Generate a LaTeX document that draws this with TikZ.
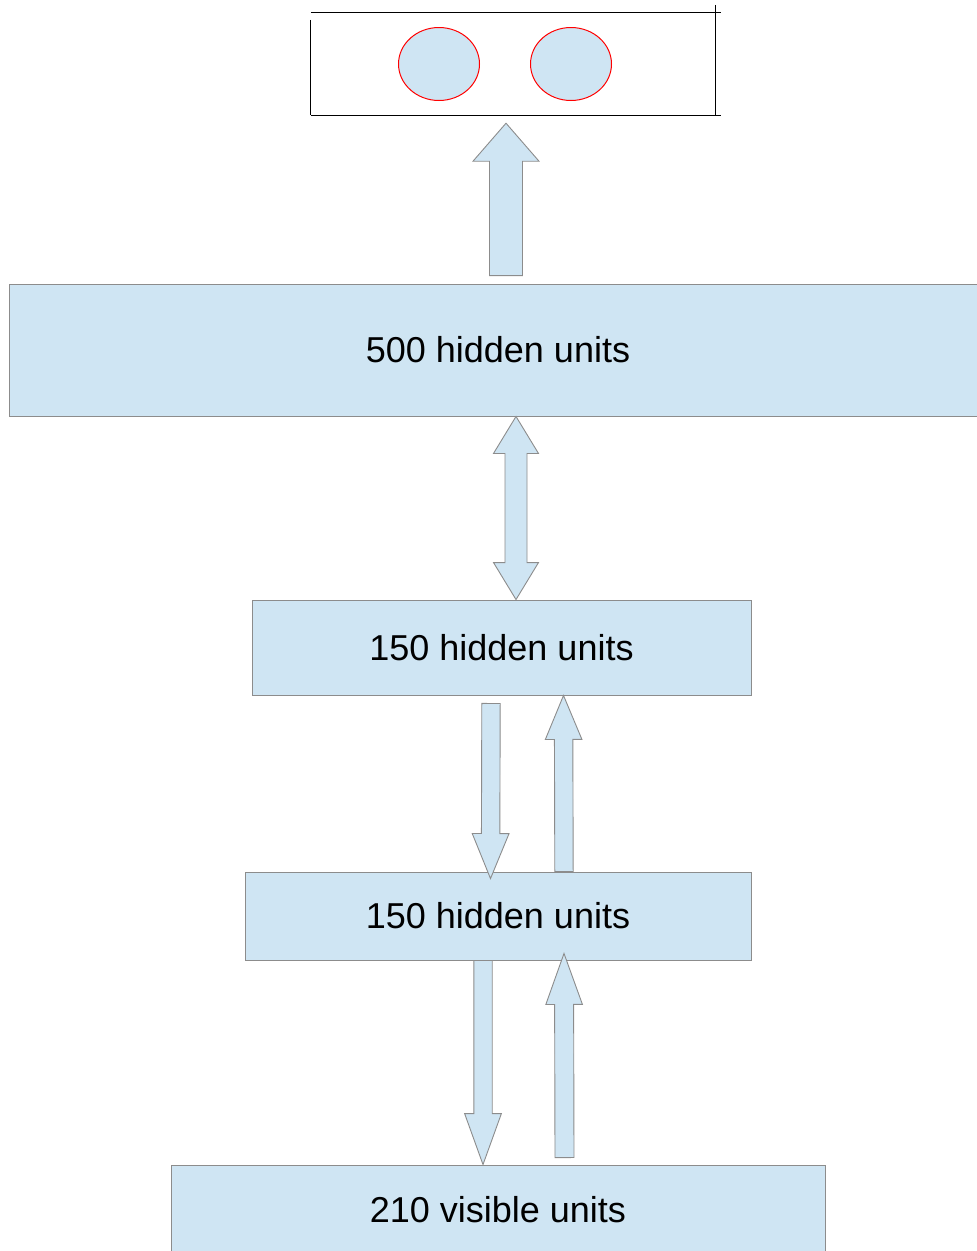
\documentclass[tikz,border=0pt]{standalone}
\usepackage{fontspec}
\setmainfont{Liberation Sans}
\usetikzlibrary{calc,positioning,shapes.geometric}

\definecolor{unitblue}{RGB}{207,229,243}
\definecolor{linegray}{RGB}{140,140,140}

% block arrow: tail, tip, shaft half width, head half width, head length
\newcommand{\fatarrow}[5]{%
  \path (#2) coordinate (fa-tip) ($(#2)!#5!(#1)$) coordinate (fa-base) ;
  \draw [fat] ($(#1)!#3!90:(#2)$) -- ($(fa-base)!#3!90:(fa-tip)$)
    -- ($(fa-base)!#4!90:(fa-tip)$) -- (fa-tip)
    -- ($(fa-base)!#4!-90:(fa-tip)$) -- ($(fa-base)!#3!-90:(fa-tip)$)
    -- ($(#1)!#3!-90:(#2)$) -- cycle ;
}
% block arrow with a head at both ends
\newcommand{\dblarrow}[5]{%
  \path (#1) coordinate (da-a) ($(#1)!#5!(#2)$) coordinate (da-ab)
        (#2) coordinate (da-b) ($(#2)!#5!(#1)$) coordinate (da-bb) ;
  \draw [fat] (da-a) -- ($(da-ab)!#4!-90:(da-b)$) -- ($(da-ab)!#3!-90:(da-b)$)
    -- ($(da-bb)!#3!90:(da-a)$) -- ($(da-bb)!#4!90:(da-a)$) -- (da-b)
    -- ($(da-bb)!#4!-90:(da-a)$) -- ($(da-bb)!#3!-90:(da-a)$)
    -- ($(da-ab)!#3!90:(da-b)$) -- ($(da-ab)!#4!90:(da-b)$) -- cycle ;
}

\tikzset{
  layer/.style={draw=linegray,fill=unitblue,line width=0.9pt,inner sep=0pt,
                font=\fontsize{36}{40}\selectfont},
  fat/.style={draw=linegray,fill=unitblue,line width=0.9pt,line join=miter},
  label unit/.style={ellipse,draw=red,fill=unitblue,line width=1pt,
                     minimum width=81pt,minimum height=73pt,inner sep=0pt},
  frame/.style={draw=black,line width=1pt}
}

\begin{document}
\begin{tikzpicture}[x=1pt,y=-1pt]
  \useasboundingbox (0,0) rectangle (977,1251) ;
%
  % output units
  \node [minimum width=410pt,minimum height=102pt,inner sep=0pt] (out) at (516,64) {} ;
  \draw [frame] (out.north west) -- (out.north east) ;
  \draw [frame] ($(out.north west)+(0,7)$) -- (out.south west) ;
  \draw [frame] ($(out.north east)+(-6,-8)$) -- ($(out.south east)+(-6,0)$) ;
  \draw [frame] (out.south west) -- (out.south east) ;
  \node [label unit] (o1) at (439,64) {} ;
  \node [label unit] (o2) at (571,64) {} ;
%
  % layers
  \node [layer,minimum width=978pt,minimum height=132pt] (h500) at (498,350) {500 hidden units} ;
  \node [layer,minimum width=499pt,minimum height=95pt] (h150a) at (501.5,647.5) {150 hidden units} ;
  \node [layer,minimum width=506pt,minimum height=88pt] (h150b) at (498,916) {150 hidden units} ;
  \node [layer,minimum width=654pt,minimum height=90pt] (v210) at (498,1210) {210 visible units} ;
%
  % connections
  \fatarrow{$(h500.north)+(8,-8)$}{$(out.south)+(-10,8)$}{16.5pt}{33pt}{38pt}
  \dblarrow{$(h500.south)+(18,0)$}{$(h150a.north)+(14.5,0)$}{11pt}{22.5pt}{37pt}
  \fatarrow{$(h150a.south)+(-10.5,8)$}{$(h150b.north)+(-7.5,7)$}{9.2pt}{18.4pt}{45pt}
  \fatarrow{$(h150b.north)+(66,0)$}{$(h150a.south)+(62,0)$}{9.2pt}{18.3pt}{44pt}
  \fatarrow{$(h150b.south)+(-15,0)$}{$(v210.north)+(-15,0)$}{9.2pt}{18.4pt}{51pt}
  \fatarrow{$(v210.north)+(66.5,-7)$}{$(h150b.south)+(66,-7)$}{9.5pt}{18.3pt}{51pt}

\end{tikzpicture}
\end{document}
